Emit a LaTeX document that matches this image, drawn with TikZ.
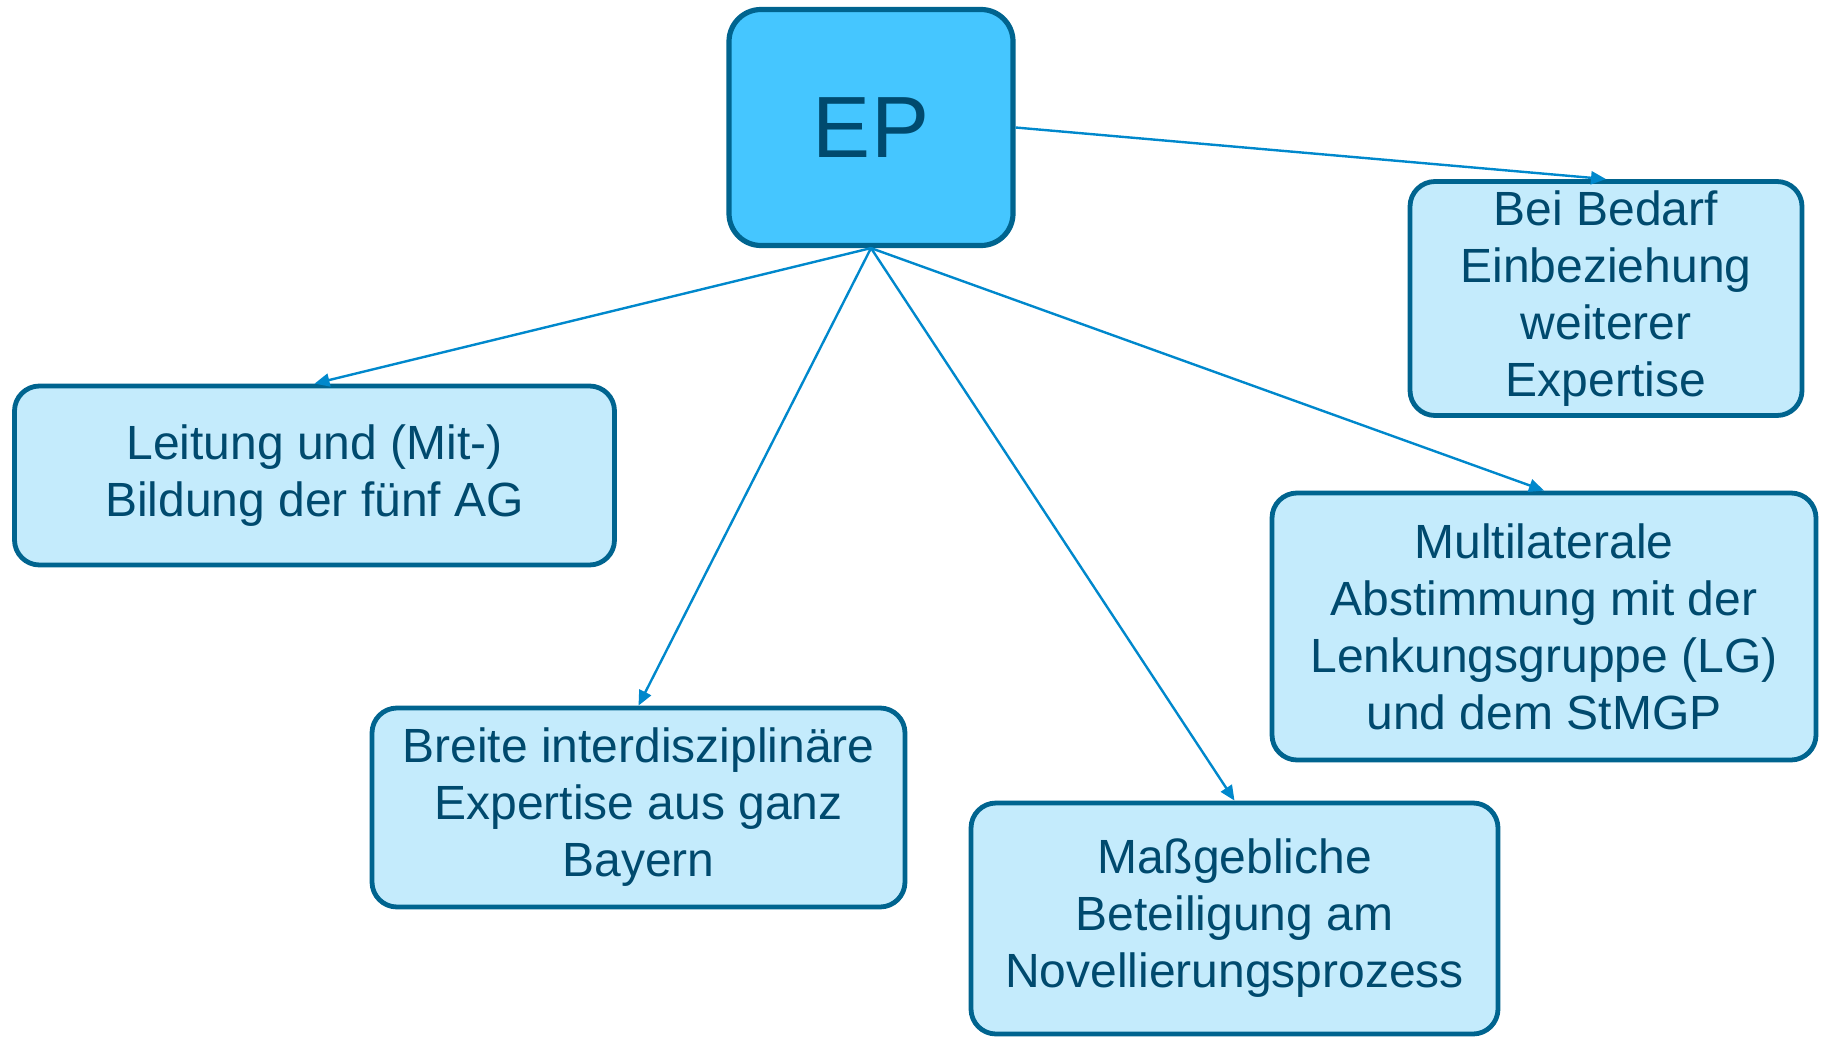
\documentclass[tikz,border=0pt]{standalone}
\usepackage{fontspec}
\setmainfont{Liberation Sans}
\usetikzlibrary{arrows.meta}
\definecolor{edgeblue}{HTML}{00648F}
\definecolor{deepfill}{HTML}{45C6FF}
\definecolor{paleblue}{HTML}{C4EBFC}
\definecolor{inkblue}{HTML}{004A6E}
\definecolor{linkblue}{HTML}{0088CC}
\begin{document}
\begin{tikzpicture}[x=0.5pt,y=-0.5pt,
  hub/.style={draw=edgeblue, line width=2.6pt, fill=deepfill, rounded corners=16pt,
    text=inkblue, font=\fontsize{43.5}{50}\selectfont, inner sep=0pt},
  topic/.style={draw=edgeblue, line width=2.4pt, fill=paleblue, rounded corners=12.5pt,
    text=inkblue, align=center, font=\fontsize{24}{28.5}\selectfont, inner sep=0pt},
  link/.style={draw=linkblue, line width=1.2pt, -{Triangle[length=7.5pt,width=6.5pt]}}]
\useasboundingbox (0,0) rectangle (1826,1039);

\node[hub, minimum width=142pt, minimum height=118pt] (ep) at (871,127.5) {EP};

\node[topic, minimum width=300pt, minimum height=89.5pt] (lead) at (314.5,475.5)
  {Leitung und (Mit-)\\Bildung der fünf AG};
\node[topic, minimum width=266.5pt, minimum height=99.5pt] (broad) at (638.5,807.5)
  {Breite interdisziplinäre\\Expertise aus ganz\\Bayern};
\node[topic, minimum width=263.5pt, minimum height=115.5pt] (novel) at (1234.5,918.5)
  {Maßgebliche\\Beteiligung am\\Novellierungsprozess};
\node[topic, minimum width=272pt, minimum height=133.5pt] (multi) at (1544,626.5)
  {Multilaterale\\Abstimmung mit der\\Lenkungsgruppe (LG)\\und dem StMGP};
\node[topic, minimum width=196pt, minimum height=117pt] (need) at (1606,298.5)
  {Bei Bedarf\\Einbeziehung\\weiterer\\Expertise};

\draw[link] (ep.south) -- (lead.north);
\draw[link] (ep.south) -- (broad.north);
\draw[link] (ep.south) -- (novel.north);
\draw[link] (ep.south) -- (multi.north);
\draw[link] (ep.east) -- (need.north);
\end{tikzpicture}
\end{document}
